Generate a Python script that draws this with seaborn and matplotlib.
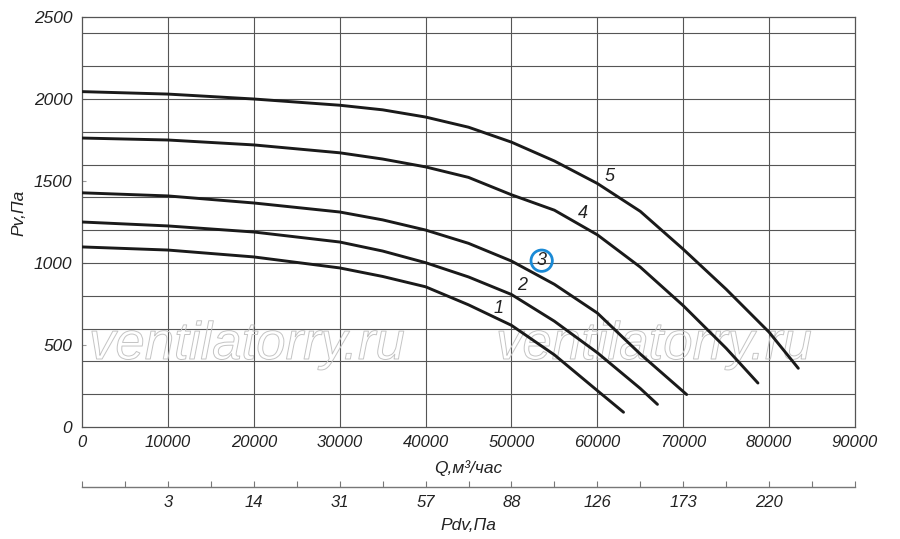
import matplotlib
matplotlib.use('Agg')
from matplotlib import pyplot as plt
from matplotlib import patheffects as pe
import seaborn as sns
import pandas as pd

# fan curves (Q in m3/h, Pv in Pa)
q1 = [0, 10000, 20000, 30000, 35000, 40000, 45000, 50000, 55000, 60000, 63050]
p1 = [1098, 1079, 1037, 970, 918, 855, 745, 620, 440, 222, 90]
q2 = [0, 10000, 20000, 30000, 35000, 40000, 45000, 50000, 55000, 60000, 65000, 67000]
p2 = [1250, 1226, 1189, 1128, 1073, 1002, 915, 808, 645, 453, 235, 138]
q3 = [0, 10000, 20000, 30000, 35000, 40000, 45000, 50000, 55000, 60000, 65000, 70400]
p3 = [1428, 1409, 1366, 1311, 1263, 1201, 1120, 1012, 870, 695, 445, 198]
q4 = [0, 10000, 20000, 30000, 35000, 40000, 45000, 50000, 55000, 60000, 65000, 70000, 75000, 78700]
p4 = [1762, 1750, 1720, 1672, 1634, 1586, 1522, 1416, 1322, 1172, 975, 740, 480, 268]
q5 = [0, 10000, 20000, 30000, 35000, 40000, 45000, 50000, 55000, 60000, 65000, 70000, 75000, 80000, 83400]
p5 = [2045, 2030, 2000, 1962, 1934, 1890, 1828, 1737, 1622, 1485, 1315, 1084, 840, 578, 358]

curve_names = ['1', '2', '3', '4', '5']
label_q = [48550, 51190, 53520, 58370, 61470]
label_p = [724, 862, 1014, 1303, 1526]

q_ticks = [0, 10000, 20000, 30000, 40000, 50000, 60000, 70000, 80000, 90000]
pv_ticks = [0, 500, 1000, 1500, 2000, 2500]
pdv_pos = [10000, 20000, 30000, 40000, 50000, 60000, 70000, 80000]
pdv_labels = ['3', '14', '31', '57', '88', '126', '173', '220']

W, H = 900, 539


def BuildFrame():
    rows = []
    for name, qs, ps in zip(curve_names, [q1, q2, q3, q4, q5], [p1, p2, p3, p4, p5]):
        for q, p in zip(qs, ps):
            rows.append({'curve': name, 'Q': q, 'Pv': p})
    return pd.DataFrame(rows)


def PlotAll(df, out):
    sns.set_theme(style='white')
    plt.rcParams['font.family'] = ['Liberation Sans', 'DejaVu Sans']
    plt.rcParams['font.style'] = 'italic'
    fig = plt.figure(figsize=(W / 100, H / 100), dpi=100)
    left, right, top, bottom = 82 / W, 855 / W, 1 - 17 / H, 1 - 427 / H
    axe = fig.add_axes([left, bottom, right - left, top - bottom])

    sns.lineplot(data=df, x='Q', y='Pv', hue='curve', palette=['#1a1a1a'] * 5,
                 estimator=None, sort=False, legend=False, lw=2.1, ax=axe, zorder=5)

    axe.set_xlim(0, 90000)
    axe.set_ylim(0, 2500)
    axe.set_xticks(q_ticks)
    axe.set_xticklabels([str(t) for t in q_ticks])
    axe.set_yticks(pv_ticks)
    axe.set_yticklabels([str(t) for t in pv_ticks])
    for v in range(10000, 90000, 10000):
        axe.axvline(v, color='#555555', lw=0.8, zorder=1)
    for v in range(200, 2500, 200):
        axe.axhline(v, color='#555555', lw=0.8, zorder=1)
    for s in axe.spines.values():
        s.set_color('#555555')
        s.set_linewidth(0.9)
    axe.tick_params(axis='x', length=0, pad=6, labelsize=12, colors='#222222')
    axe.tick_params(axis='y', left=True, direction='in', length=3, width=0.8,
                    color='#999999', pad=7, labelsize=12.5, labelcolor='#222222')
    axe.set_xlabel('')
    axe.set_ylabel('')

    # watermark
    for xc in [247, 654]:
        axe.text(xc / W, 1 - 345 / H, 'ventilatorry.ru', transform=fig.transFigure,
                 fontsize=38, color='none', ha='center', va='center', zorder=3,
                 path_effects=[pe.Stroke(linewidth=0.7, foreground='#c4c4c4')])

    # curve numbers
    for name, x, y in zip(curve_names, label_q, label_p):
        if name == '3':
            axe.text(x, y, name, fontsize=13, ha='center', va='center', zorder=6,
                     color='#222222',
                     bbox=dict(boxstyle='circle,pad=0.12', fc='none', ec='#1a8ad6', lw=2))
        else:
            axe.text(x, y, name, fontsize=13, ha='center', va='center', zorder=6,
                     color='#222222')

    fig.text(468 / W, 1 - 468 / H, 'Q,м³/час', ha='center', va='center',
             fontsize=12.5, color='#222222')
    fig.text(19 / W, 1 - 213 / H, 'Pv,Па', ha='center', va='center', rotation=90,
             fontsize=12.5, color='#222222')

    # dynamic pressure scale
    ax2 = fig.add_axes([left, 1 - 487 / H, right - left, 0.001])
    ax2.set_xlim(0, 90000)
    ax2.set_yticks([])
    for k in ['top', 'left', 'right']:
        ax2.spines[k].set_visible(False)
    ax2.spines['bottom'].set_color('#777777')
    ax2.spines['bottom'].set_linewidth(1)
    ax2.set_xticks(pdv_pos)
    ax2.set_xticklabels(pdv_labels)
    ax2.set_xticks(range(0, 95000, 5000), minor=True)
    ax2.tick_params(axis='x', which='both', bottom=True, direction='in', length=4,
                    width=0.8, color='#777777', pad=6, labelsize=12,
                    labelcolor='#222222')
    ax2.patch.set_visible(False)
    fig.text(468 / W, 1 - 525 / H, 'Pdv,Па', ha='center', va='center',
             fontsize=12.5, color='#222222')

    plt.savefig(out, dpi=100)


def main():
    df = BuildFrame()
    PlotAll(df, 'out.png')


if __name__ == '__main__':
    main()
